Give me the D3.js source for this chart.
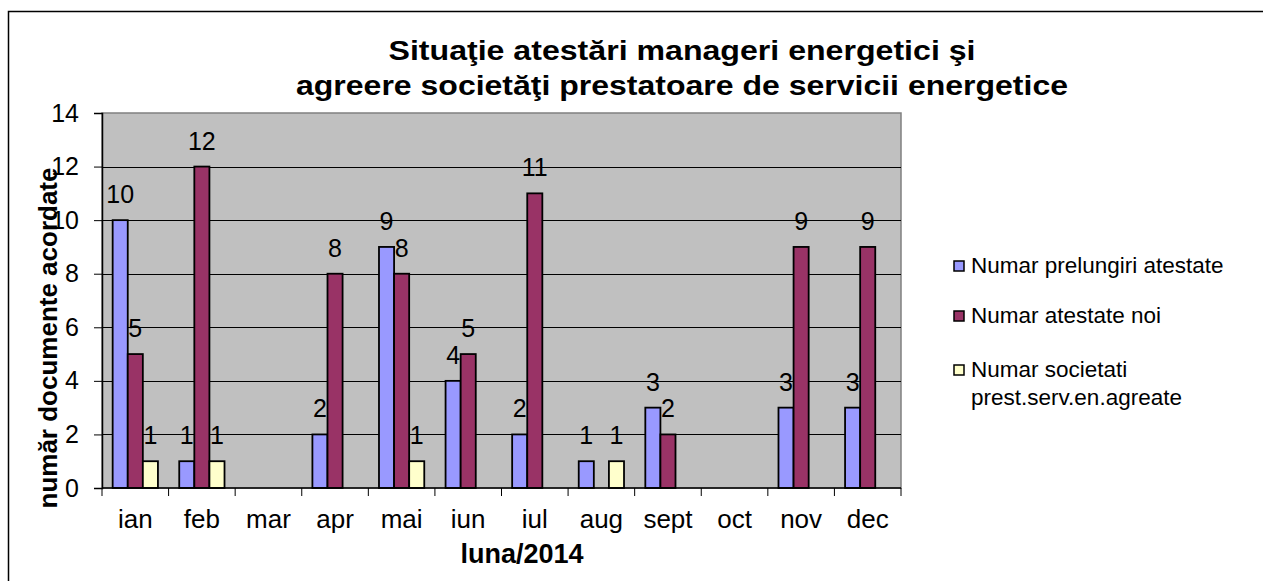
<!DOCTYPE html>
<html>
<head>
<meta charset="utf-8">
<script src="https://cdn.jsdelivr.net/npm/d3@7"></script>
<style>
  body { margin: 0; background: #fff; }
  text { font-family: "Liberation Sans", Arial, sans-serif; }
</style>
</head>
<body>
<svg id="chart" width="1263" height="581"></svg>
<script>
var months = ["ian", "feb", "mar", "apr", "mai", "iun", "iul", "aug", "sept", "oct", "nov", "dec"];
var seriesNames = ["Numar prelungiri atestate", "Numar atestate noi", "Numar societati prest.serv.en.agreate"];
var prelungiri = [10, 1, null, 2, 9, 4, 2, 1, 3, null, 3, 3];
var atestateNoi = [5, 12, null, 8, 8, 5, 11, null, 2, null, 9, 9];
var societati = [1, 1, null, null, 1, null, null, 1, null, null, null, null];
var yTicks = [0, 2, 4, 6, 8, 10, 12, 14];
var colors = ["#9999ff", "#993366", "#ffffcc"];

var svg = d3.select("#chart");
var plot = {left: 102, top: 113, right: 901, bottom: 488};

// outer chart frame, right and bottom edges fall outside the picture
svg.append("rect")
  .attr("x", 8.5).attr("y", 11.5)
  .attr("width", 1400).attr("height", 700)
  .attr("fill", "#fff").attr("stroke", "#000").attr("stroke-width", 1.5);

var x0 = d3.scaleBand().domain(months).range([plot.left, plot.right]);
var x1 = d3.scaleBand().domain(d3.range(3))
  .range([x0.bandwidth() * 0.16, x0.bandwidth() * 0.84]);
var y = d3.scaleLinear().domain([0, 14]).range([plot.bottom, plot.top]);

svg.append("rect")
  .attr("x", plot.left).attr("y", plot.top)
  .attr("width", plot.right - plot.left).attr("height", plot.bottom - plot.top)
  .attr("fill", "#c0c0c0").attr("stroke", "#808080").attr("stroke-width", 1.5);

// gridlines
svg.append("g").selectAll("line")
  .data(yTicks.filter(function (t) { return t > 0 && t < 14; }))
  .enter().append("line")
  .attr("x1", plot.left).attr("x2", plot.right)
  .attr("y1", function (d) { return Math.round(y(d)) + 0.5; })
  .attr("y2", function (d) { return Math.round(y(d)) + 0.5; })
  .attr("stroke", "#000").attr("stroke-width", 1);

var data = [prelungiri, atestateNoi, societati];
var bars = [];
data.forEach(function (vals, s) {
  vals.forEach(function (v, i) {
    if (v !== null) bars.push({s: s, m: months[i], v: v});
  });
});

var g = svg.append("g");
g.selectAll("rect").data(bars).enter().append("rect")
  .attr("x", function (d) { return x0(d.m) + x1(d.s); })
  .attr("y", function (d) { return y(d.v); })
  .attr("width", x1.bandwidth())
  .attr("height", function (d) { return y(0) - y(d.v); })
  .attr("fill", function (d) { return colors[d.s]; })
  .attr("stroke", "#000").attr("stroke-width", 1.8);

g.selectAll("text").data(bars).enter().append("text")
  .attr("x", function (d) { return x0(d.m) + x1(d.s) + x1.bandwidth() / 2; })
  .attr("y", function (d) { return y(d.v) - 17; })
  .attr("text-anchor", "middle")
  .attr("font-size", 25)
  .attr("fill", "#000")
  .text(function (d) { return d.v; });

// axes
var yAxis = d3.axisLeft(y).tickValues(yTicks).tickSize(8).tickPadding(15);
var ya = svg.append("g").attr("transform", "translate(" + plot.left + ",0)").call(yAxis);
ya.select(".domain").attr("stroke", "#000").attr("stroke-width", 1.5);
ya.selectAll(".tick line").attr("stroke", "#000");
ya.selectAll("text").attr("font-size", 25).attr("fill", "#000")
  .attr("font-family", "Liberation Sans, Arial, sans-serif");

var xa = svg.append("g").attr("transform", "translate(0," + plot.bottom + ")");
xa.append("line").attr("x1", plot.left).attr("x2", plot.right)
  .attr("stroke", "#000").attr("stroke-width", 1.5);
xa.selectAll("line.tick").data(months.concat(["end"])).enter().append("line")
  .attr("class", "tick")
  .attr("x1", function (d) { return d === "end" ? plot.right : x0(d); })
  .attr("x2", function (d) { return d === "end" ? plot.right : x0(d); })
  .attr("y1", 0).attr("y2", 8).attr("stroke", "#000");
xa.selectAll("text").data(months).enter().append("text")
  .attr("x", function (d) { return x0(d) + x0.bandwidth() / 2; })
  .attr("y", 40)
  .attr("text-anchor", "middle")
  .attr("font-size", 26)
  .text(function (d) { return d; });

// titles
var title = svg.append("text").attr("text-anchor", "middle")
  .attr("font-size", 28).attr("font-weight", "bold");
title.append("tspan").attr("x", 682).attr("y", 60)
  .attr("textLength", 587).attr("lengthAdjust", "spacingAndGlyphs")
  .text("Situaţie atestări manageri energetici şi");
title.append("tspan").attr("x", 682).attr("y", 95)
  .attr("textLength", 772).attr("lengthAdjust", "spacingAndGlyphs")
  .text("agreere societăţi prestatoare de servicii energetice");

svg.append("text")
  .attr("x", 522).attr("y", 563)
  .attr("text-anchor", "middle")
  .attr("font-size", 27).attr("font-weight", "bold")
  .text("luna/2014");

svg.append("text")
  .attr("transform", "translate(57,338) rotate(-90)")
  .attr("text-anchor", "middle")
  .attr("font-size", 26).attr("font-weight", "bold")
  .text("număr documente acordate");

// legend
var legendRows = [
  {lines: [seriesNames[0]], y: 273},
  {lines: [seriesNames[1]], y: 323},
  {lines: ["Numar societati", "prest.serv.en.agreate"], y: 377}
];
var lg = svg.append("g");
legendRows.forEach(function (r, i) {
  lg.append("rect")
    .attr("x", 954).attr("y", r.y - 12)
    .attr("width", 10).attr("height", 10)
    .attr("fill", colors[i]).attr("stroke", "#000").attr("stroke-width", 1.5);
  var t = lg.append("text").attr("font-size", 22.5);
  r.lines.forEach(function (l, j) {
    t.append("tspan").attr("x", 971).attr("y", r.y + j * 28).text(l);
  });
});
</script>
</body>
</html>
